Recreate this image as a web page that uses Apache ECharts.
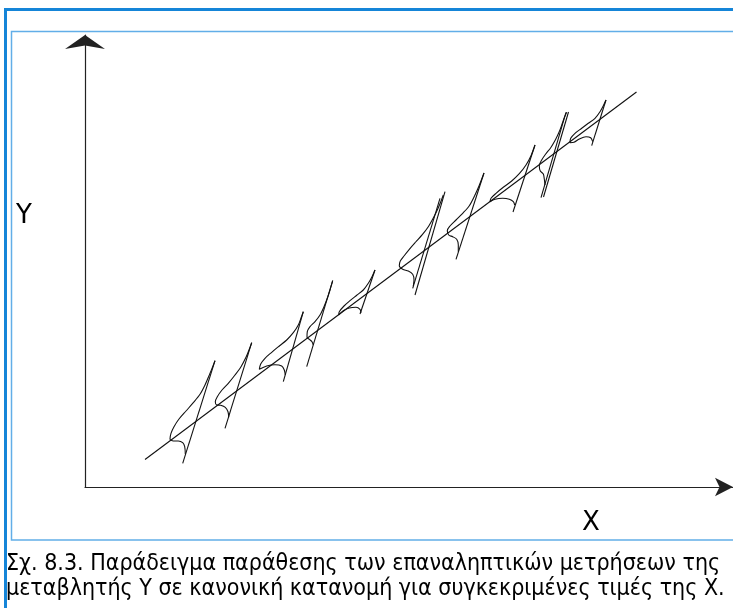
<!DOCTYPE html>
<html><head><meta charset="utf-8">
<script src="https://cdn.jsdelivr.net/npm/echarts@6/dist/echarts.min.js"></script>
<style>html,body{margin:0;padding:0;background:#fff}#c{width:733px;height:608px}</style>
</head><body><div id="c"></div>
<script>
// Data space: arbitrary units (no numeric scale on the figure)
const xRange = [0, 648];
const yRange = [0, 452];
const regressionLine = [[60, 27.5], [551.5, 395]];
// straight "baseline" of each distribution (drawn in perspective)
const baseSegments = [
  [[97.7, 23.7], [130, 126.3]],
  [[140, 58.7], [166.7, 144.3]],
  [[198.3, 105.3], [218.3, 175.3]],
  [[221.7, 120.3], [247.7, 206.3]],
  [[275, 173], [290, 217]],
  [[327.7, 198.7], [355, 288.7]],
  [[330, 192], [360, 295.3]],
  [[371, 227.7], [399, 314]],
  [[428, 275], [450, 342]],
  [[456, 289.3], [481, 374.7]],
  [[458.5, 290], [483.5, 375]],
  [[506.7, 341.3], [521, 387]]
];
// density curves (traced)
const curve1 = [[100.3,33],[99.7,40.3],[97.7,44.3],[93.3,46],[88.3,46],[85,48],[86,53.7],[89,60.3],[94,68],[101,76],[108.3,84.3],[115,92.7],[120,102],[124.3,112],[127.7,120.3],[130,126.3]];
const curve2 = [[143.7,69.7],[143,75.3],[140.3,79.7],[135.7,81.7],[131.7,82],[130.3,85.3],[132.3,90.3],[137,97],[143.3,103.7],[150,112],[156,120.3],[161,129.7],[164.3,137.7],[166.7,144.3]];
const curve3 = [[200.3,112],[199.3,117],[196.7,121],[190,122.3],[181.7,121],[174.3,117.7],[175.7,123],[180,128.7],[186.7,134.7],[194.3,141],[201.7,147],[208.3,154.3],[213.3,162],[216.3,169.7],[218.3,175.3]];
const curve4 = [[228.3,142],[227,145.3],[224.3,147.7],[222,149.7],[222.3,155.3],[225,160.3],[230,165.3],[235,172],[239,180.3],[242.3,188.7],[245,197],[247.7,206.3]];
const curve5 = [[276,174.3],[275,177.7],[271,179.7],[264.3,179],[258.3,176.3],[253.7,172],[254.3,175.3],[259,181],[265,186.3],[271.7,191.7],[278.3,197],[283.3,203.7],[287,210.3],[290,217]];
const curve6 = [[328.3,201],[329,207],[327.7,212.7],[323.3,216],[317.7,217.7],[314.3,221.3],[315.3,226],[319,231],[324.3,237.7],[330.7,245],[337.3,252.3],[343.3,260.3],[348.3,269],[352.3,277],[355.7,285],[358.3,292]];
const curve7 = [[373.3,235.3],[373.3,242],[371.7,247.7],[367.7,250.3],[363.7,252],[362.3,256.3],[365,261],[371,267],[377.7,273.7],[384.3,281.3],[389.5,291],[394,301],[399,314]];
const curve8 = [[429.7,282],[428.3,285.3],[424.3,287.7],[417.7,288.7],[410,287.7],[405,285.3],[406,288.7],[411,293.7],[418.3,299.7],[426.7,306],[434.3,313.3],[441,322],[446,331.3],[450,342]];
const curve9 = [[460,302],[459.3,308],[458.3,313],[455.3,316],[454.3,321.3],[456.7,327],[460.7,333],[465.7,339.3],[470.3,347],[474,354.7],[477,362.7],[479.3,369.3],[481.7,374.7]];
const curve10 = [[507.7,345.3],[505.7,349.3],[501,350.3],[494.3,348],[489,344.7],[485,344.3],[485.7,348.7],[490,353.7],[496.7,358.7],[503.3,363.7],[510,368.7],[515,375.3],[518.3,381.3],[521,387]];
const axisNames = ['X', 'Y'];
const captionLines = [
  'Σχ. 8.3. Παράδειγμα παράθεσης των επαναληπτικών μετρήσεων της',
  'μεταβλητής Υ σε κανονική κατανομή για συγκεκριμένες τιμές της Χ.'
];

const curves = [curve1, curve2, curve3, curve4, curve5, curve6, curve7, curve8, curve9, curve10];
const ink = '#111';
const series = [];
series.push({type:'line', data: regressionLine, showSymbol:false, lineStyle:{color:ink, width:1.1}});
baseSegments.forEach(s => series.push({type:'line', data:s, showSymbol:false, lineStyle:{color:ink, width:1.1}}));
curves.forEach(c => series.push({type:'line', data:c, smooth:0.3, showSymbol:false, lineStyle:{color:ink, width:1.1}}));

const chart = echarts.init(document.getElementById('c'), null, {renderer:'canvas'});
const captionFont = '"DejaVu Sans Condensed", "DejaVu Sans", sans-serif';
chart.setOption({
  animation:false,
  backgroundColor:'#fff',
  grid:{left:85, right:0, top:35, bottom:121},
  xAxis:{type:'value', min:xRange[0], max:xRange[1], splitLine:{show:false}, axisTick:{show:false}, axisLabel:{show:false},
    axisLine:{show:true, onZero:false, symbol:['none','arrow'], symbolSize:[14,18], lineStyle:{color:'#222', width:1.2}}},
  yAxis:{type:'value', min:yRange[0], max:yRange[1], splitLine:{show:false}, axisTick:{show:false}, axisLabel:{show:false},
    axisLine:{show:true, onZero:false, symbol:['none','arrow'], symbolSize:[30,14], lineStyle:{color:'#222', width:1.2}}},
  series: series,
  graphic:[
    {type:'rect', shape:{x:4, y:8, width:729, height:3}, style:{fill:'#1585d8'}, silent:true},
    {type:'rect', shape:{x:4, y:8, width:3, height:600}, style:{fill:'#1585d8'}, silent:true},
    {type:'rect', shape:{x:11.5, y:31.5, width:740, height:508.5}, style:{fill:null, stroke:'#62aee8', lineWidth:1.5}, silent:true},
    {type:'text', left:16, top:203, style:{text:axisNames[1], font:'26px "DejaVu Sans", sans-serif', fill:'#000'}},
    {type:'text', left:582, top:510, style:{text:axisNames[0], font:'26px "DejaVu Sans", sans-serif', fill:'#000'}},
    {type:'text', left:6, top:553, style:{text:captionLines[0], font:'23px ' + captionFont, fill:'#000'}},
    {type:'text', left:6, top:578, style:{text:captionLines[1], font:'23px ' + captionFont, fill:'#000'}}
  ]
});
</script>
</body></html>
